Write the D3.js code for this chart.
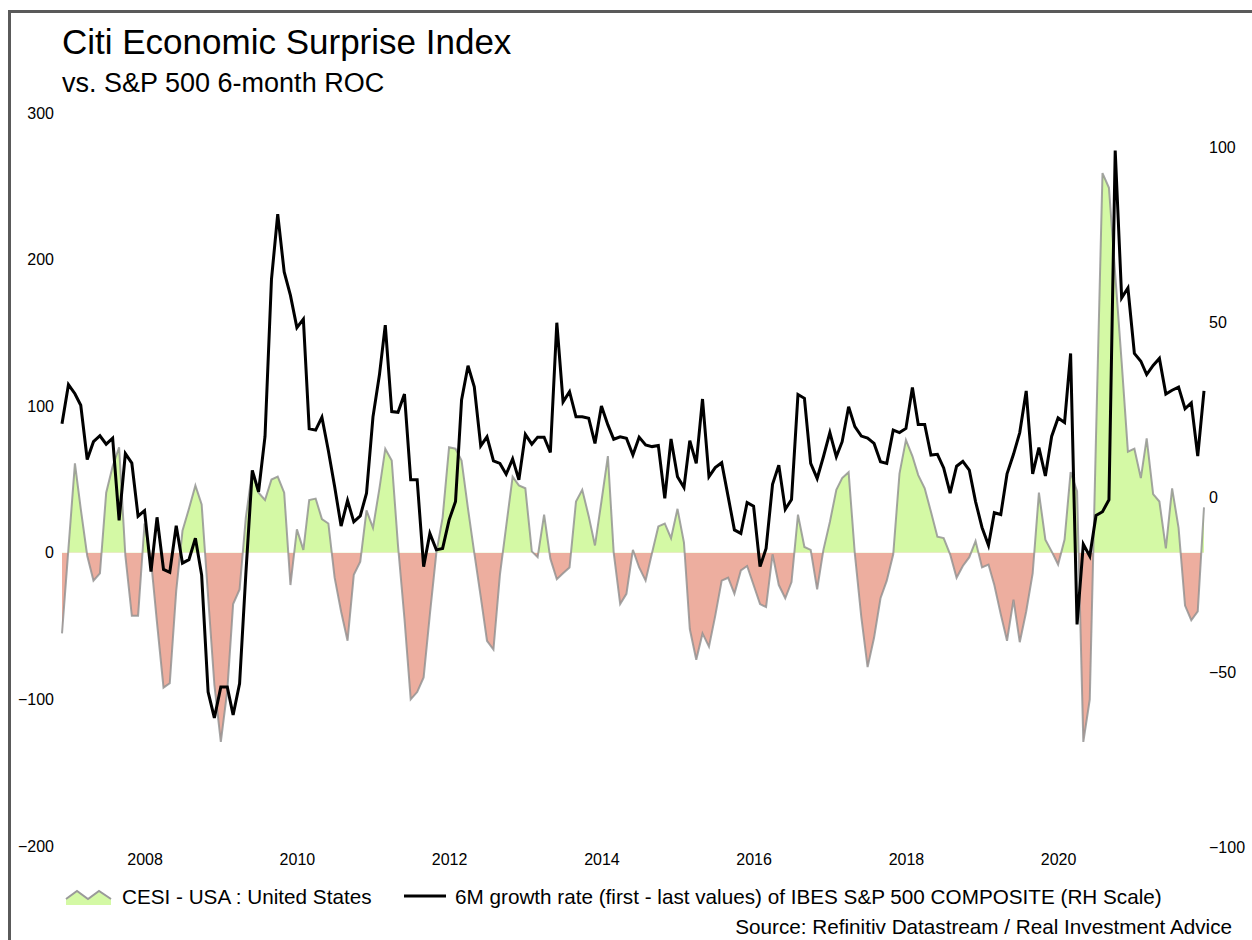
<!DOCTYPE html>
<html>
<head>
<meta charset="utf-8">
<script src="https://cdn.jsdelivr.net/npm/d3@7"></script>
<style>
  body { margin: 0; background: #fff; }
  svg { display: block; font-family: "Liberation Sans", Arial, sans-serif; }
</style>
</head>
<body>
<div id="chart"></div>
<script>
// monthly observations, first one is Dec 2006
const startMonth = "2006-12";

// CESI - USA (left scale)
const cesiUS = [
  -55, 3, 61, 30, -2, -19, -14, 41, 59, 72, -2, -43, -43, 20, -5, -48, -92, -89, -26, 15,
  30, 46, 33, -30, -90, -129, -94, -35, -25, 24, 56, 41, 36, 50, 52, 41, -22, 16, 2, 36,
  37, 23, 20, -17, -40, -60, -15, -6, 29, 17, 44, 71, 63, 5, -45, -100, -95, -85, -42, 0,
  24, 72, 71, 63, 30, 0, -30, -60, -66, -15, 18, 52, 46, 44, 1, -3, 26, -4, -18, -14,
  -10, 35, 43, 25, 5, 35, 66, 0, -35, -28, 2, -10, -19, 0, 18, 20, 10, 30, 7, -52,
  -73, -55, -64, -43, -19, -17, -28, -12, -9, -22, -35, -37, -1, -22, -31, -20, 26, 4, 2, -25,
  2, 21, 43, 51, 55, -1, -44, -78, -58, -31, -19, -1, 54, 77, 66, 53, 44, 28, 11, 10,
  -1, -17, -9, -3, 8, -10, -8, -22, -42, -60, -32, -61, -40, -14, 41, 9, 1, -8, 9, 55,
  42, -129, -100, 80, 259, 249, 190, 130, 69, 71, 51, 78, 40, 35, 3, 44, 17, -36, -46, -40,
  31
];

// 6M growth rate of IBES S&P 500 composite (right scale)
const spxGrowth = [
  20.9, 32.1, 29.5, 26.2, 10.7, 15.8, 17.5, 15.1, 16.8, -6.7, 12.4, 9.7, -5.5, -3.9, -21.3, -5.8, -20.7, -21.5, -8.2, -18.9,
  -17.9, -11.8, -22.3, -55.7, -63.1, -54.3, -54.3, -62.3, -53.3, -22, 7.6, 1.5, 17.3, 62.2, 80.8, 64.3, 57.6, 48.4, 50.8, 19.5,
  19.1, 22.8, 13.2, 3.0, -8.3, -1.0, -7.1, -5.4, 1.1, 22.9, 34.9, 49.1, 24.4, 24.2, 29.4, 4.9, 4.9, -19.9, -10.4, -15.1,
  -14.7, -6.6, -1.3, 27.7, 37.5, 31.5, 14.6, 17.2, 10.3, 9.6, 6.5, 10.9, 4.9, 17.9, 15.1, 17.1, 17.1, 12.7, 49.8, 27.2,
  30.1, 22.9, 22.9, 22.5, 15.3, 26.0, 20.6, 16.5, 17.2, 16.8, 12.0, 17.1, 14.9, 14.4, 14.7, -0.4, 16.6, 5.8, 2.7, 16.1,
  9.6, 28.0, 5.8, 8.4, 9.8, 0.1, -9.4, -10.4, -1.6, -2.6, -19.9, -14.7, 3.6, 9.1, -3.5, -0.7, 29.3, 28.2, 9.6, 5.3,
  11.5, 18.4, 11.5, 15.8, 25.8, 20.1, 17.4, 16.8, 15.3, 10.1, 9.6, 19.1, 18.4, 19.6, 31.3, 20.7, 20.7, 12.0, 12.2, 8.3,
  1.1, 8.8, 10.2, 7.7, -1.3, -8.7, -13.8, -4.5, -5.0, 6.6, 12.2, 18.4, 30.3, 6.6, 14.1, 6.0, 17.3, 22.6, 21.3, 41.0,
  -36.4, -13.5, -16.9, -5.3, -4.2, -0.8, 99.0, 56.9, 59.7, 41.0, 38.8, 35.0, 37.6, 39.6, 29.4, 30.5, 31.4, 25.2, 26.9, 11.7,
  30.3
];

const leftTicks = [300, 200, 100, 0, -100, -200];
const rightTicks = [100, 50, 0, -50, -100];
const yearTicks = [2008, 2010, 2012, 2014, 2016, 2018, 2020];

const title = "Citi Economic Surprise Index";
const subtitle = "vs. S&P 500 6-month ROC";
const cesiLabel = "CESI - USA : United States";
const spxLabel = "6M growth rate (first - last values) of IBES S&P 500 COMPOSITE (RH Scale)";
const sourceLabel = "Source: Refinitiv Datastream / Real Investment Advice";

const width = 1252, height = 940;

const svg = d3
  .select("#chart")
  .append("svg")
  .attr("width", width)
  .attr("height", height);

const start = d3.timeParse("%Y-%m")(startMonth);
const dates = cesiUS.map((d, i) => d3.timeMonth.offset(start, i));

const x = d3.scaleTime().domain([dates[0], dates[dates.length - 1]]).range([62, 1204]);
const yL = d3.scaleLinear().domain([-200, 300]).range([846, 113]);
const yR = d3.scaleLinear().domain([-100, 100]).range([847, 147]);

// frame
svg.append("path")
  .attr("d", `M9.5,${height} V11.5 H${width}`)
  .attr("fill", "none")
  .attr("stroke", "#5a5a5a")
  .attr("stroke-width", 3);

// titles
svg.append("text").attr("x", 62).attr("y", 54)
  .style("font-size", "35px").attr("fill", "#000").text(title);
svg.append("text").attr("x", 62).attr("y", 92)
  .style("font-size", "27px").attr("fill", "#000").text(subtitle);

// clip areas above / below zero
const defs = svg.append("defs");
defs.append("clipPath").attr("id", "above")
  .append("rect").attr("x", 0).attr("y", 0).attr("width", width).attr("height", yL(0));
defs.append("clipPath").attr("id", "below")
  .append("rect").attr("x", 0).attr("y", yL(0)).attr("width", width).attr("height", height - yL(0));

const area = d3.area()
  .x((d, i) => x(dates[i]))
  .y0(yL(0))
  .y1((d) => yL(d));

svg.append("path").datum(cesiUS)
  .attr("clip-path", "url(#above)")
  .attr("fill", "#d4f9a5")
  .attr("d", area);
svg.append("path").datum(cesiUS)
  .attr("clip-path", "url(#below)")
  .attr("fill", "#edae9f")
  .attr("d", area);

const cesiLine = d3.line()
  .x((d, i) => x(dates[i]))
  .y((d) => yL(d));

svg.append("path").datum(cesiUS)
  .attr("fill", "none")
  .attr("stroke", "#8f8f8f")
  .attr("stroke-opacity", 0.8)
  .attr("stroke-width", 2)
  .attr("d", cesiLine);

const spxLine = d3.line()
  .x((d, i) => x(dates[i]))
  .y((d) => yR(d));

svg.append("path").datum(spxGrowth)
  .attr("fill", "none")
  .attr("stroke", "#000")
  .attr("stroke-width", 3)
  .attr("d", spxLine);

// axes
const leftAxis = svg.append("g")
  .attr("transform", "translate(54,0)")
  .call(d3.axisLeft(yL).tickValues(leftTicks).tickSize(0).tickPadding(0));
const rightAxis = svg.append("g")
  .attr("transform", "translate(1209,0)")
  .call(d3.axisRight(yR).tickValues(rightTicks).tickSize(0).tickPadding(0));
const bottomAxis = svg.append("g")
  .attr("transform", "translate(0,854)")
  .call(d3.axisBottom(x)
    .tickValues(yearTicks.map((yr) => new Date(yr, 0, 1)))
    .tickFormat(d3.timeFormat("%Y"))
    .tickSize(0).tickPadding(0));

[leftAxis, rightAxis, bottomAxis].forEach((g) => {
  g.select(".domain").remove();
  g.selectAll("text")
    .style("font-size", "16px")
    .style("font-family", "'Liberation Sans', Arial, sans-serif")
    .attr("fill", "#000");
});

// legend
const legend = svg.append("g");
const swatchTop = d3.line()([[66, 899], [77, 891], [88, 899], [99, 891], [111, 899]]);
legend.append("path")
  .attr("d", swatchTop + "L111,905 L66,905 Z")
  .attr("fill", "#d4f9a5");
legend.append("path")
  .attr("d", swatchTop)
  .attr("fill", "none")
  .attr("stroke", "#9a9a9a")
  .attr("stroke-width", 2);
legend.append("text").attr("x", 122).attr("y", 904)
  .style("font-size", "20.7px").text(cesiLabel);

legend.append("line")
  .attr("x1", 404).attr("x2", 446).attr("y1", 896).attr("y2", 896)
  .attr("stroke", "#000").attr("stroke-width", 3);
legend.append("text").attr("x", 455).attr("y", 904)
  .style("font-size", "20.7px").text(spxLabel);

svg.append("text")
  .attr("x", 1232).attr("y", 934)
  .attr("text-anchor", "end")
  .style("font-size", "20.7px")
  .text(sourceLabel);
</script>
</body>
</html>
